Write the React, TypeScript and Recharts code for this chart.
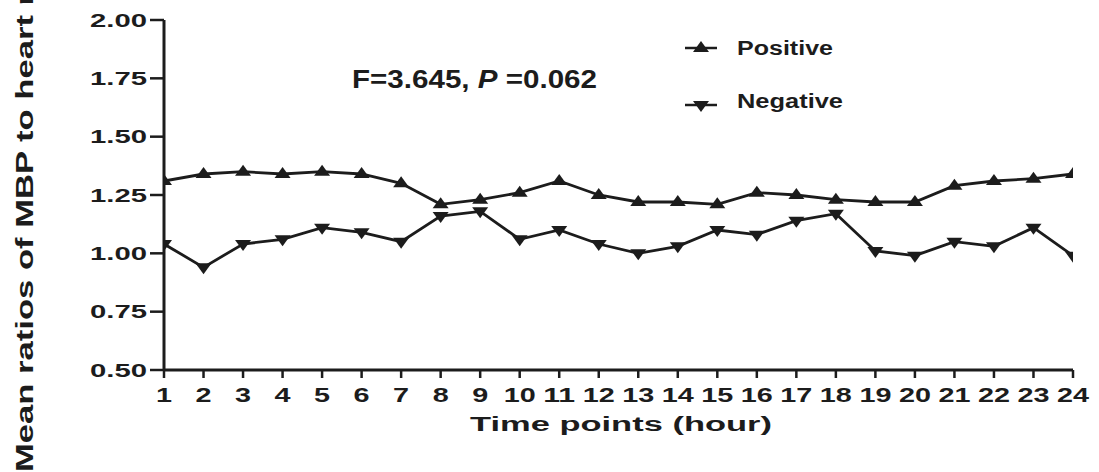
import React from "react";
import { LineChart, Line, XAxis, YAxis, Customized } from "recharts";

const hours = [1, 2, 3, 4, 5, 6, 7, 8, 9, 10, 11, 12, 13, 14, 15, 16, 17, 18, 19, 20, 21, 22, 23, 24];
const positive = [1.31, 1.34, 1.35, 1.34, 1.35, 1.34, 1.30, 1.21, 1.23, 1.26, 1.31, 1.25, 1.22, 1.22, 1.21, 1.26, 1.25, 1.23, 1.22, 1.22, 1.29, 1.31, 1.32, 1.34];
const negative = [1.04, 0.94, 1.04, 1.06, 1.11, 1.09, 1.05, 1.16, 1.18, 1.06, 1.10, 1.04, 1.00, 1.03, 1.10, 1.08, 1.14, 1.17, 1.01, 0.99, 1.05, 1.03, 1.11, 0.99];
const yTicks = [0.5, 0.75, 1.0, 1.25, 1.5, 1.75, 2.0];
const seriesNames = ["Positive", "Negative"];
const yTitle = "Mean ratios of MBP to heart rate";
const xTitle = "Time points (hour)";
const statF = "F=3.645, ";
const statP = "P";
const statRest = " =0.062";

const data = hours.map((h, i) => ({ hour: h, positive: positive[i], negative: negative[i] }));

const INK = "#1c1c1c";
const FONT = "'Liberation Sans', Arial, sans-serif";

const UpTri = (props: any) => {
  const { cx, cy } = props;
  if (cx == null || cy == null) return null;
  return <polygon points={`${cx},${cy - 7} ${cx - 8},${cy + 4} ${cx + 8},${cy + 4}`} fill={INK} />;
};
const DownTri = (props: any) => {
  const { cx, cy } = props;
  if (cx == null || cy == null) return null;
  return <polygon points={`${cx - 8},${cy - 4} ${cx + 8},${cy - 4} ${cx},${cy + 7}`} fill={INK} />;
};

const YTick = (props: any) => {
  const { x, y, payload } = props;
  return (
    <text x={x - 1} y={y + 6.5} textAnchor="end" fontFamily={FONT} fontWeight="bold" fontSize={18} fill={INK}
      textLength={57} lengthAdjust="spacingAndGlyphs">
      {payload.value.toFixed(2)}
    </text>
  );
};

const XTick = (props: any) => {
  const { x, y, payload } = props;
  const s = String(payload.value);
  return (
    <text x={x} y={y + 22} textAnchor="middle" fontFamily={FONT} fontWeight="bold" fontSize={20} fill={INK}
      textLength={s.length * 16} lengthAdjust="spacingAndGlyphs">
      {s}
    </text>
  );
};

const Overlay = () => {
  return (
    <g>
      <text x={33} y={472} transform="rotate(-90, 33, 472)" fontFamily={FONT} fontWeight="bold" fontSize={24} fill={INK}
        textLength={530} lengthAdjust="spacingAndGlyphs">
        {yTitle}
      </text>
      <text x={470} y={431} fontFamily={FONT} fontWeight="bold" fontSize={20} fill={INK}
        textLength={302} lengthAdjust="spacingAndGlyphs">
        {xTitle}
      </text>
      <text x={352} y={88} fontFamily={FONT} fontWeight="bold" fontSize={25} fill={INK}
        textLength={245} lengthAdjust="spacingAndGlyphs">
        {statF}
        <tspan fontStyle="italic">{statP}</tspan>
        {statRest}
      </text>
      <line x1={685} y1={48} x2={717} y2={48} stroke={INK} strokeWidth={2.5} />
      <UpTri cx={701} cy={48} />
      <text x={737} y={55} fontFamily={FONT} fontWeight="bold" fontSize={20} fill={INK}
        textLength={96} lengthAdjust="spacingAndGlyphs">
        {seriesNames[0]}
      </text>
      <line x1={685} y1={105} x2={717} y2={105} stroke={INK} strokeWidth={2.5} />
      <DownTri cx={701} cy={105} />
      <text x={737} y={108} fontFamily={FONT} fontWeight="bold" fontSize={20} fill={INK}
        textLength={106} lengthAdjust="spacingAndGlyphs">
        {seriesNames[1]}
      </text>
    </g>
  );
};

export default function App() {
  return (
    <div style={{ position: "absolute", left: 0, top: 0, width: 1099, height: 472, background: "#fff" }}>
      <LineChart width={1099} height={472} data={data} margin={{ top: 20, right: 26, bottom: 0, left: 0 }}>
        <XAxis dataKey="hour" type="number" domain={[1, 24]} ticks={hours} interval={0} height={102}
          axisLine={{ stroke: INK, strokeWidth: 3 }} tickLine={{ stroke: INK, strokeWidth: 2.5 }} tickSize={8}
          tick={<XTick />} allowDataOverflow />
        <YAxis type="number" domain={[0.5, 2]} ticks={yTicks} width={164} interval={0}
          axisLine={{ stroke: INK, strokeWidth: 3 }} tickLine={{ stroke: INK, strokeWidth: 2.5 }} tickSize={14}
          tick={<YTick />} allowDataOverflow />
        <Line type="linear" dataKey="positive" stroke={INK} strokeWidth={2.8} dot={<UpTri />} activeDot={false} isAnimationActive={false} />
        <Line type="linear" dataKey="negative" stroke={INK} strokeWidth={2.8} dot={<DownTri />} activeDot={false} isAnimationActive={false} />
        <Customized component={<Overlay />} />
      </LineChart>
    </div>
  );
}
